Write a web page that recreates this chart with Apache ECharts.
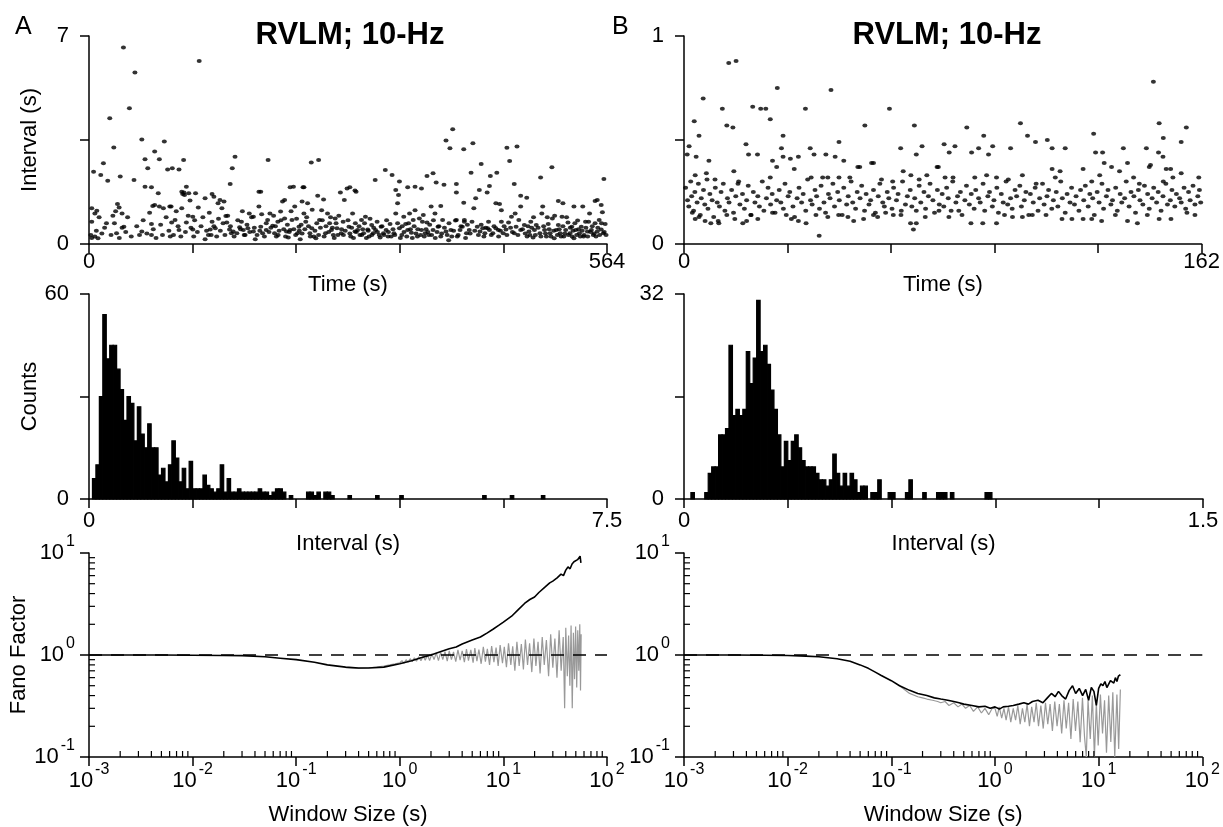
<!DOCTYPE html>
<html>
<head>
<meta charset="utf-8">
<script src="https://cdn.jsdelivr.net/npm/echarts@6/dist/echarts.min.js"></script>
<style>
  html, body { margin: 0; padding: 0; background: #fff; }
  #main { width: 1223px; height: 827px; }
</style>
</head>
<body>
<div id="main"></div>
<script>
// 各面板数据
var panelTitle = 'RVLM; 10-Hz';
var panelLetters = ['A', 'B'];

// 上排：间隔序列 [时间(s), 间隔(s)]
var spikesA = [
  [37.5,6.61],[50,5.77],[44,4.57],[22.6,4.23],[120,6.16],[27,3.25],[57.5,3.52],[82,3.45],[5,2.43],[15.7,2.72],
  [12.8,2.32],[20.4,2.13],[34,2.27],[49,2.15],[61,2.85],[71.5,3.11],[64,2.55],[76.6,2.85],[85.6,2.51],[90.7,2.55],
  [98,2.51],[103,2.83],[159,2.94],[156,2.55],[153.7,2.02],[195,2.83],[242,2.74],[250,2.83],[388.7,3.48],[396,3.86],
  [393,3.22],[408,3.19],[418,3.39],[455,3.24],[466,3.28],[458,2.79],[427,2.69],[416,2.4],[437,2.29],[444,2.4],
  [491.7,2.24],[504,2.58],[560.6,2.19],[311.6,2.15],[322.6,2.49],[330,2.32],[338,2.1],[374.6,2.38],[368,2.29],[378,2.07],
  [386.5,1.99],[355,1.93],[347,1.91],[362,1.87],[334,1.82],[400,2.02],[463,2.02],[436,1.95],[425,1.82],[433.5,1.73],
  [400,1.73],[408,1.39],[470,1.62],[476.6,1.56],[421,1.54],[443,1.37],[449,1.14],[447,1.35],[494,1.26],[511,1.45],
  [516,1.37],[528,1.26],[537.6,1.26],[551,1.45],[553.4,1.48],[557.7,1.31],[559,1.07],[470,1.26],[464,1.03],[383,1.28],
  [399,0.79],[408.7,0.81],[61,1.93],[76.6,1.26],[88,1.26],[101,1.76],[104,1.65],[134,1.68],[187,1.76],[213,1.48],
  [219,1.91],[234,1.91],[232,1.43],[249,1.62],[281,1.87],[289.6,1.8],[284,1.91],[337,1.65],
  [3,1.2],[6.4,1.03],[8.5,1.12],[3,0.75],[2,0.3],[6.4,0.25],[9.8,0.19],[19,0.7],[31,1.35],[32.8,1.23],
  [36,1.03],[27.7,0.7],[30,0.36],[36,0.55],[38,0.58],[57.5,0.42],[68,0.67],[68,0.3],[69.4,1.28],[71.5,1.31],
  [68,1.91],[75.4,1.71],[81,1.2],[89.4,1.26],[88.5,0.25],[90,0.72],[93.7,0.81],[98,0.47],[101,1.2],[102,1.68],
  [106,0.72],[110,1.46],[113,0.92],[114,0.25],[113,0.49],[116,1.71],[108.6,1.71],[103.4,1.73],[106,1.93],[119,1.23],
  [126.4,1.54],[126.4,0.16],[130,0.3],[132,0.49],[134,0.75],[136,1.59],[137.5,0.53],[140.5,1.37],[142.6,1.48],[144.7,1.2],
  [147,1.43],[149,0.94],[150,0.72],[153,0.49],[155,0.36],[157,0.42],[161,0.36],[164,0.56],[166,0.75],[168,0.47],
  [170,0.3],[173,0.53],[174.5,1.03],[179,0.92],[181,0.16],[179,0.42],[185,1.76],[185,1.26],[187,0.58],[189,0.36],
  [193,0.47],[194.5,0.81],[197,1.03],[200,0.61],[202,0.36],[204,0.25],[205.6,0.75],[208.6,1.09],[210.7,1.43],[213,0.86],
  [215,0.42],[217,0.22],[219,0.47],[221,0.81],[222.6,1.93],[224,1.26],[227,0.36],[228.6,0.58],[230,0.16],[233,1.91],
  [234,1.03],[236,0.75],[238,1.37],[240.5,0.36],[242.6,0.53],[244.8,0.25],[247,0.19],[251,0.81],[253.3,1.14],[255.4,1.5],
  [257.5,0.36],[259.7,1.03],[262,0.7],[264,0.47],[266,0.3],[268,0.86],[270,0.53],[273.7,1.73],[274.6,0.36],[276.7,0.75],
  [278,1.48],[283,0.58],[285,0.25],[287,1.03],[289.6,0.42],[290.8,1.76],[292.5,0.47],[295,0.3],[296.7,0.81],[299,0.36],
  [301,0.92],[303.5,0.49],[305,0.25],[307.8,0.64],[309.5,0.36],[312,0.47],[313.7,0.75],[316,0.3],[318,0.58],[320.6,0.36],
  [323.5,0.47],[325.6,0.25],[327.8,0.67],[332,0.36],[334,1.03],[336,1.37],[338,0.53],[340.6,0.3],[342.7,0.92],[344.8,0.67],
  [347,0.47],[349,1.03],[351,0.38],[353,0.81],[355,1.14],[357.6,0.25],[359.7,0.86],[362,0.47],[364,0.98],[366,0.36],
  [368,0.72],[370,0.3],[372.5,1.26],[374.6,0.47],[376.7,1.03],[380,0.58],[383,0.25],[385,0.81],[388.7,0.42],[391.6,0.13],
  [394,0.47],[400,0.81],[401,0.25],[404,0.47],[406.5,0.58],[408.7,0.75],[411,0.36],[414,0.47],[417,0.75],[419,1.2],
  [422.7,0.58],[425.7,0.42],[428.7,0.53],[431,0.36],[434,0.53],[436,0.47],[439.7,0.36],[443,0.53],[445.7,0.47],[449,0.75],
  [451,0.36],[454,0.49],[456.8,0.72],[460,0.92],[463,0.36],[465,0.58],[468,0.81],[470,0.47],[474,0.64],[477,0.25],
  [479,0.42],[481,0.75],[483.5,0.22],[485,0.47],[487,0.64],[491,0.36],[493,1.03],[496,0.47],[498,0.25],[500,0.67],
  [502,0.36],[504.5,0.86],[506.5,0.19],[508.7,0.47],[511,0.64],[513,0.36],[515,0.92],[517,0.25],[519,0.47],[521.5,0.72],
  [523.6,0.36],[525.7,0.58],[528,0.19],[530,0.47],[532,0.79],[534,0.36],[536,0.58],[538.5,0.25],[540.6,0.75],[542.7,0.42],
  [545,1.03],[547,0.47],[549,0.3],[551,0.7],[553.4,0.42],[555.5,0.81],[557.7,0.49],[560,0.36],[562,0.67],
  [3,0.2],[8,0.45],[11,0.9],[14,0.35],[17,0.55],[24,0.3],[26,0.95],[29,1.1],[33,0.2],[40,0.4],
  [42,0.9],[46,0.25],[52,0.6],[55,0.3],[59,0.8],[63,0.35],[66,1.05],[70,0.5],[73,0.2],[78,0.65],
  [80,0.3],[84,0.9],[87,0.45],[92,0.3],[95,1.1],[97,0.6],[100,0.25],[105,0.4],[108,0.95],[111,0.55],
  [115,0.8],[118,0.4],[122,0.6],[124,0.9],[128,0.45],[131,1.05],[133,0.3],[136,0.6],[139,0.25],[141,0.85],
  [143,0.45],[146,0.7],[148,0.3],[151,0.95],[154,0.6],[158,0.25],[162,0.8],[165,0.5],[167,1.1],[169,0.3],
  [172,0.65],[175,0.4],[177,0.9],[180,0.55],[183,0.3],[186,0.45],[188,1.0],[191,0.25],[193,0.7],[196,0.4],
  [198,0.55],[201,0.95],[203,0.6],[206,0.3],[207,0.45],[209,0.8],[212,0.5],[214,0.25],[216,0.65],[218,0.4],
  [220,1.1],[223,0.5],[225,0.3],[226,0.85],[229,0.45],[231,0.65],[232,0.35],[235,0.5],[237,0.9],[239,0.6],
  [241,0.25],[243,1.15],[246,0.45],[248,0.7],[250,0.3],[252,0.55],[254,0.8],[256,0.25],[258,0.6],[261,0.4],
  [263,0.9],[265,0.55],[267,0.2],[269,0.7],[271,0.3],[272,0.95],[275,0.5],[277,0.3],[279,0.45],[282,0.8],
  [284,0.35],[286,0.55],[288,0.2],[290,0.7],[291,0.4],[294,0.6],[297,0.3],[298,0.5],[300,0.7],[302,0.2],
  [304,0.45],[306,0.85],[308,0.3],[310,0.55],[314,0.4],[317,0.22],[319,0.6],[321,0.3],[324,0.8],[326,0.4],
  [329,0.25],[331,0.5],[333,0.3],[336,0.7],[339,0.2],[341,0.6],[343,0.4],[346,0.25],[348,0.7],[350,0.5],
  [352,0.2],[354,0.6],[356,0.35],[358,0.5],[361,0.3],[363,0.75],[365,0.25],[367,0.5],[369,0.4],[371,0.65],
  [373,0.3],[375,0.8],[377,0.2],[379,0.4],[381,0.6],[384,0.35],[387,0.55],[390,0.3],[392,0.7],[395,0.25],
  [397,0.45],[402,0.3],[405,0.6],[410,0.2],[412,0.65],[415,0.35],[420,0.45],[424,0.3],[427,0.65],[430,0.25],
  [432,0.55],[435,0.75],[438,0.3],[441,0.6],[446,0.25],[448,0.45],[452,0.6],[455,0.3],[459,0.55],[461,0.4],
  [467,0.3],[472,0.5],[475,0.35],[478,0.6],[480,0.3],[482,0.55],[484,0.9],[486,0.3],[489,0.55],[492,0.25],
  [495,0.6],[497,0.35],[499,0.9],[501,0.5],[503,0.25],[506,0.45],[507,0.95],[510,0.3],[512,0.5],[514,0.25],
  [516,0.6],[518,0.35],[520,0.9],[522,0.3],[524,0.55],[526,0.25],[527,0.45],[529,0.7],[531,0.3],[533,0.5],
  [535,0.25],[537,0.45],[539,0.3],[541,0.55],[543,0.25],[544,0.75],[546,0.4],[548,0.6],[550,0.35],[552,0.25],
  [554,0.55],[556,0.3],[558,0.7],[561,0.4],[563,0.3]
];

// B 上排：稀疏的高值与下缘点 [时间(s), 间隔(s)]
var spikesB = [
  [14,0.87],[16.3,0.88],[6,0.70],[3.2,0.59],[4.7,0.52],[1.6,0.47],[1,0.43],[3.8,0.42],[12,0.65],[13.4,0.57],
  [15.3,0.56],[15.6,0.35],[19.4,0.48],[20.2,0.43],[23,0.43],[21.5,0.66],[24,0.65],[25.6,0.65],[27,0.6],[29.2,0.75],
  [31,0.52],[27.7,0.4],[29,0.37],[30.5,0.46],[31,0.42],[33.3,0.41],[34.5,0.36],[35.8,0.42],[38,0.65],[39.5,0.46],
  [40.7,0.43],[44.4,0.43],[46,0.74],[47.3,0.42],[48.5,0.49],[50,0.40],[54.4,0.37],[56.6,0.57],[58.7,0.39],[64.3,0.65],
  [67.8,0.46],[72.1,0.57],[72.7,0.43],[74.5,0.47],[79.6,0.37],[81.4,0.48],[83,0.44],[84.8,0.47],[88.5,0.56],[90,0.44],
  [92.2,0.46],[93.8,0.52],[95.3,0.43],[96.6,0.47],[102.2,0.46],[105.3,0.58],[107.5,0.52],[110,0.49],[113.7,0.5],[115.2,0.46],
  [119.3,0.46],[128.2,0.53],[128.8,0.44],[131,0.44],[131.5,0.39],[133.8,0.37],[137.5,0.46],[138.8,0.39],[144.7,0.46],[146.9,0.78],
  [148.7,0.58],[148.5,0.44],[150,0.51],[149.9,0.42],[155.6,0.49],[157.2,0.56],[146,0.38],[150.9,0.36],[42.3,0.04],
  [2.6,0.15],[3.5,0.12],[4.7,0.13],[6.6,0.11],[8.4,0.1],[10.7,0.11],[10.9,0.1],[13.4,0.14],[15.9,0.12],[18.4,0.1],
  [19.6,0.11],[20.9,0.14],[23.1,0.12],[27.7,0.15],[32,0.14],[33.6,0.12],[35.8,0.11],[38.2,0.1],[41.3,0.14],[45,0.13],
  [48.4,0.14],[51.3,0.13],[53.1,0.11],[56.2,0.12],[59.3,0.14],[60.6,0.13],[63.1,0.15],[65.5,0.14],[68,0.16],[70.9,0.1],
  [71.8,0.07],[72.7,0.1],[75.5,0.13],[79.8,0.16],[82.9,0.13],[86,0.16],[89.8,0.1],[93.5,0.1],[97.8,0.1],[100.3,0.14],
  [102.8,0.13],[105.9,0.13],[109,0.14],[113.3,0.14],[118.3,0.12],[121.4,0.12],[124.9,0.12],[127.6,0.12],[130.7,0.11],[135,0.14],
  [138.8,0.11],[141.9,0.1],[145,0.14],[148.7,0.12],[152.4,0.12],[157.4,0.15],[159.9,0.14],
  [3.5,0.33],[7,0.34],[7.8,0.4],[9.7,0.31],[16.9,0.29],[27,0.32],[39.8,0.32],[43.4,0.32],[45,0.32],[48.5,0.32],
  [51.9,0.32],[55,0.37],[59.3,0.39],[61.8,0.31],[65.3,0.3],[68.6,0.35],[71,0.33],[73.6,0.31],[76,0.33],[79.2,0.37],
  [81.7,0.32],[84.2,0.32],[91,0.32],[94.7,0.33],[97.8,0.32],[101.5,0.31],[105.9,0.33],[110.2,0.29],[115.2,0.36],[116.2,0.32],
  [117.7,0.35],[124.9,0.36],[127.6,0.3],[130.1,0.33],[136.3,0.35],[140.7,0.32],[142.5,0.29],[145.6,0.37],[150,0.3],[152.3,0.36],
  [153,0.32],[155.6,0.34],[161.1,0.32]
];
// B 上排：密集带（时间与间隔分列）
var bandTimesB = [
  0.5,1.1,1.5,2.1,2.4,3.0,3.4,4.1,4.5,5.1,5.4,6.1,6.5,7.2,7.5,8.1,8.8,9.3,9.8,10.4,
  11.1,11.6,12.3,12.8,13.6,14.1,14.9,15.5,16.2,17.1,17.5,18.3,18.9,19.6,20.1,21.0,21.7,22.2,23.1,23.6,
  24.5,25.0,25.8,26.3,27.1,27.6,28.5,29.0,29.8,30.3,31.1,31.6,32.6,33.1,34.1,34.6,35.4,36.0,36.8,37.3,
  38.1,38.7,39.6,40.1,41.0,41.5,42.4,42.9,43.8,44.3,45.2,45.7,46.6,47.1,48.1,48.6,49.5,50.0,50.9,51.4,
  52.3,52.8,53.7,54.2,55.1,55.6,56.5,57.0,57.9,58.4,59.3,59.9,60.8,61.3,62.2,62.7,63.6,64.1,65.1,65.6,
  66.5,67.0,67.9,68.4,69.3,69.9,70.8,71.3,72.2,72.7,73.6,74.1,75.1,75.6,76.5,77.0,77.9,78.4,79.3,79.9,
  80.8,81.3,82.2,82.7,83.6,84.1,85.1,85.6,86.5,87.0,87.9,88.4,89.3,89.9,90.8,91.3,92.2,92.7,93.6,94.1,
  95.1,95.6,96.5,97.0,97.9,98.4,99.3,99.9,100.8,101.3,102.2,102.7,103.6,104.1,105.1,105.6,106.5,107.0,107.9,108.4,
  109.3,109.9,110.8,111.3,112.2,112.7,113.6,114.1,115.1,115.6,116.5,117.0,117.9,118.4,119.3,119.9,120.8,121.3,122.2,122.7,
  123.6,124.1,125.1,125.6,126.5,127.0,127.9,128.4,129.3,129.9,130.8,131.3,132.2,132.7,133.6,134.1,135.1,135.6,136.5,137.0,
  137.9,138.4,139.3,139.9,140.8,141.3,142.2,142.7,143.6,144.1,145.1,145.6,146.5,147.0,147.9,148.4,149.3,149.9,150.8,151.3,
  152.2,152.7,153.6,154.1,155.1,155.6,156.5,157.0,157.9,158.4,159.3,159.9,160.8,161.3,161.7
];
var bandValsB = [
  0.27,0.21,0.18,0.3,0.23,0.16,0.25,0.2,0.29,0.14,0.22,0.26,0.19,0.31,0.17,0.24,0.21,0.13,0.27,0.2,
  0.18,0.25,0.29,0.16,0.22,0.2,0.26,0.15,0.23,0.3,0.19,0.24,0.17,0.21,0.28,0.14,0.25,0.2,0.23,0.18,
  0.3,0.16,0.22,0.27,0.19,0.24,0.15,0.21,0.26,0.2,0.17,0.29,0.23,0.25,0.18,0.13,0.22,0.27,0.2,0.24,
  0.16,0.31,0.21,0.19,0.26,0.23,0.17,0.28,0.2,0.15,0.24,0.22,0.29,0.18,0.25,0.21,0.14,0.27,0.19,0.23,
  0.3,0.2,0.17,0.25,0.22,0.28,0.16,0.24,0.19,0.21,0.26,0.15,0.23,0.29,0.2,0.18,0.25,0.22,0.17,0.27,
  0.21,0.24,0.14,0.3,0.19,0.23,0.26,0.18,0.22,0.16,0.28,0.2,0.25,0.17,0.23,0.29,0.21,0.15,0.26,0.19,
  0.24,0.18,0.27,0.22,0.16,0.3,0.2,0.23,0.25,0.14,0.21,0.28,0.19,0.24,0.17,0.26,0.22,0.2,0.29,0.16,
  0.23,0.25,0.18,0.21,0.27,0.15,0.24,0.2,0.3,0.19,0.22,0.17,0.26,0.23,0.28,0.18,0.21,0.25,0.14,0.24,
  0.2,0.27,0.16,0.22,0.29,0.19,0.23,0.26,0.17,0.21,0.25,0.18,0.3,0.22,0.15,0.24,0.2,0.27,0.19,0.23,
  0.16,0.26,0.21,0.28,0.18,0.24,0.22,0.14,0.25,0.2,0.29,0.17,0.23,0.26,0.19,0.21,0.27,0.16,0.24,0.2,
  0.22,0.3,0.18,0.25,0.23,0.15,0.26,0.21,0.19,0.28,0.24,0.17,0.22,0.27,0.2,0.25,0.16,0.23,0.29,0.19,
  0.21,0.26,0.18,0.24,0.22,0.2,0.27,0.17,0.25,0.21,0.28,0.19,0.23,0.26,0.2
];

// 中排：间隔直方图（计数，按 bin 序号）
var binWidthA = 0.05;
var countsA = [0,6,10,30,54,41,45,45,38,32,23,30,28,17,27,19,15,22,15,15,
  7,9,5,10,17,12,5,9,3,11,3,3,3,7,4,3,2,3,10,2,
  6,2,2,3,2,2,2,2,2,3,2,2,1,2,3,3,2,0,1,0,
  0,0,0,2,2,1,2,0,2,2,1,0,0,0,0,1,0,0,0,0,
  0,0,0,1,0,0,0,0,0,0,1,0,0,0,0,0,0,0,0,0,
  0,0,0,0,0,0,0,0,0,0,0,0,0,0,1,0,0,0,0,0,
  0,0,1,0,0,0,0,0,0,0,0,1];
var binWidthB = 0.01;
var countsB = [0,0,1,0,0,0,1,4,5,5,10,10,11,24,13,14,13,14,23,18,
  22,31,23,24,21,17,14,10,5,9,6,9,10,8,6,5,5,5,4,3,
  3,2,3,7,4,2,4,2,4,3,1,2,2,0,1,1,3,0,0,1,
  1,0,0,0,1,3,0,0,0,1,0,0,0,1,1,1,0,1,0,0,
  0,0,0,0,0,0,0,1,1];

// 下排：Fano 因子 [窗口(s), F]
var fanoA = [
  [0.001,1.0],[0.002,1.0],[0.005,1.0],[0.01,0.995],[0.02,0.99],[0.03,0.985],[0.05,0.96],[0.07,0.93],[0.1,0.9],[0.15,0.85],
  [0.2,0.8],[0.3,0.76],[0.4,0.745],[0.5,0.745],[0.7,0.76],[1.0,0.82],[1.3,0.88],[1.6,0.94],[2,1.0],[2.5,1.08],
  [3,1.15],[3.5,1.2],[4,1.28],[5,1.4],[6,1.5],[7,1.65],[8,1.8],[9,1.95],[10,2.1],[12,2.4],
  [14,2.8],[16,3.2],[18,3.5],[20,3.7],[22,4.1],[25,4.6],[28,5.1],[30,5.3],[33,5.7],[36,6.2],
  [38,6.0],[40,6.8],[42,7.3],[44,7.0],[46,7.8],[48,8.2],[50,7.9],[52,8.6],[54,8.3],[55,9.3],[56,8.0]
];
var fanoShuffledA = [
  [0.3,0.75],[0.4,0.74],[0.5,0.75],[0.6,0.76],[0.7,0.78],[0.8,0.8],[0.9,0.82],
  [1.0,0.84],[1.05,0.88],[1.1,0.83],[1.15,0.9],[1.2,0.85],[1.26,0.92],[1.32,0.86],[1.38,0.94],[1.45,0.87],[1.52,0.96],
  [1.6,0.88],[1.68,0.98],[1.76,0.89],[1.85,1.0],[1.94,0.88],[2.04,1.03],[2.14,0.9],[2.25,1.05],[2.36,0.88],[2.48,1.06],
  [2.6,0.9],[2.73,1.08],[2.87,0.87],[3.0,1.1],[3.15,0.9],[3.3,1.07],[3.47,0.86],[3.64,1.12],[3.82,0.89],[4.0,1.1],
  [4.2,0.85],[4.4,1.14],[4.6,0.88],[4.85,1.12],[5.1,0.84],[5.3,1.17],[5.55,0.87],[5.8,1.13],[6.1,0.82],[6.4,1.2],
  [6.7,0.86],[7.0,1.15],[7.35,0.8],[7.7,1.22],[8.1,0.85],[8.5,1.18],[8.9,0.78],[9.3,1.25],[9.8,0.83],[10.2,1.2],
  [10.7,0.76],[11.2,1.3],[11.8,0.8],[12.3,1.22],[12.9,0.7],[13.5,1.35],[14.2,0.78],[14.9,1.28],[15.6,0.72],[16.3,1.42],
  [17.1,0.8],[17.9,1.3],[18.8,0.68],[19.7,1.45],[20.6,0.78],[21.6,1.35],[22.6,0.66],[23.7,1.5],[24.8,0.8],[26,1.4],
  [27.3,0.62],[28.6,1.6],[30,0.75],[31.4,1.45],[32.9,0.6],[34.5,1.75],[36.1,0.7],[37.8,1.5],[39,0.3],[40,1.85],
  [41.4,0.62],[42.6,1.55],[43.8,0.5],[45,1.95],[46.2,0.3],[47.4,1.65],[48.6,0.58],[49.8,1.9],[51,0.48],[52.2,1.75],
  [53.4,0.7],[54.6,2.0],[55.5,0.45],[56.3,1.6]
];
var fanoB = [
  [0.001,1.0],[0.003,1.0],[0.006,0.995],[0.01,0.99],[0.015,0.975],[0.02,0.96],[0.03,0.92],[0.04,0.87],[0.05,0.8],[0.06,0.74],
  [0.07,0.68],[0.08,0.63],[0.1,0.56],[0.12,0.5],[0.15,0.45],[0.18,0.42],[0.22,0.4],[0.26,0.38],[0.3,0.37],[0.35,0.36],
  [0.4,0.35],[0.45,0.34],[0.5,0.33],[0.6,0.32],[0.7,0.31],[0.8,0.315],[0.9,0.3],[1.0,0.31],[1.1,0.295],[1.2,0.31],
  [1.35,0.315],[1.5,0.32],[1.7,0.33],[1.9,0.34],[2.1,0.33],[2.3,0.35],[2.6,0.36],[2.9,0.34],[3.2,0.38],[3.5,0.42],
  [3.8,0.39],[4.1,0.44],[4.4,0.4],[4.8,0.37],[5.2,0.45],[5.6,0.5],[6.0,0.42],[6.5,0.47],[7,0.4],[7.5,0.46],
  [8,0.36],[8.5,0.48],[9,0.44],[9.5,0.32],[10,0.47],[10.5,0.52],[11,0.5],[11.5,0.55],[12,0.48],[12.5,0.5],
  [13,0.56],[13.5,0.58],[14,0.53],[14.5,0.6],[15,0.55],[15.5,0.62],[16,0.6],[16.2,0.64]
];
var fanoShuffledB = [
  [0.12,0.5],[0.15,0.42],[0.18,0.39],[0.2,0.38],[0.22,0.37],[0.25,0.36],[0.28,0.35],[0.3,0.34],[0.33,0.35],[0.36,0.32],
  [0.4,0.34],[0.44,0.31],[0.48,0.33],[0.52,0.3],[0.57,0.32],[0.62,0.28],[0.68,0.31],[0.74,0.27],[0.8,0.3],[0.87,0.26],
  [0.94,0.3],[1.0,0.3],[1.05,0.25],[1.1,0.31],[1.16,0.24],[1.22,0.3],[1.28,0.23],[1.35,0.31],[1.42,0.22],[1.5,0.3],
  [1.58,0.23],[1.66,0.32],[1.75,0.21],[1.84,0.3],[1.94,0.22],[2.04,0.33],[2.15,0.2],[2.26,0.31],[2.38,0.22],[2.5,0.34],
  [2.63,0.2],[2.77,0.32],[2.92,0.19],[3.07,0.34],[3.23,0.21],[3.4,0.33],[3.58,0.18],[3.77,0.35],[3.97,0.2],[4.18,0.33],
  [4.4,0.17],[4.63,0.36],[4.87,0.19],[5.13,0.34],[5.4,0.15],[5.68,0.37],[5.98,0.18],[6.3,0.35],[6.63,0.14],[6.98,0.38],
  [7.3,0.16],[7.6,0.1],[7.9,0.36],[8.3,0.15],[8.7,0.4],[9.1,0.1],[9.5,0.34],[9.9,0.13],[10.4,0.41],[10.9,0.17],
  [11.4,0.36],[11.9,0.11],[12.5,0.4],[13.1,0.14],[13.7,0.43],[14.3,0.1],[15,0.41],[15.6,0.12],[16.2,0.46]
];

// 坐标轴范围与刻度标签
var timeMax = [564, 162];
var intervalMax = [7, 1];
var histMaxX = [7.5, 1.5];
var histMaxText = ['7.5', '1.5'];
var histMaxY = [60, 32];
var minorMultipliers = [2,3,4,5,6,7,8,9];
var xDecades = [-3,-2,-1,0,1];
var yDecades = [-1,0];

var FONT = 'Arial, "Liberation Sans", Helvetica, sans-serif';
var chart = echarts.init(document.getElementById('main'));

var gridsLeft = [89, 684];
var gridsWidth = [518, 519];
var rows = [{top: 36, height: 208}, {top: 294, height: 205}, {top: 553, height: 207}];

var grid = [], xAxis = [], yAxis = [], series = [];

function axisBase() {
  return {
    axisLine: {show: true, onZero: false, lineStyle: {color: '#000', width: 1.5}},
    axisTick: {show: true, length: 9, lineStyle: {color: '#000', width: 1.5}},
    splitLine: {show: false},
    axisLabel: {color: '#000', fontSize: 22, fontFamily: FONT},
    nameTextStyle: {color: '#000', fontSize: 22, fontFamily: FONT}
  };
}
function endLabels(maxV, maxText) {
  return function (v) {
    if (Math.abs(v) < 1e-9) return '0';
    if (Math.abs(v - maxV) < 1e-6) return maxText;
    return '';
  };
}
function powLabel(v) {
  var e = Math.round(Math.log(v) / Math.LN10);
  return '{b|10}{s|' + e + '}';
}
var powRich = {
  b: {fontSize: 22, fontFamily: FONT, color: '#000', lineHeight: 22, verticalAlign: 'bottom'},
  s: {fontSize: 16, fontFamily: FONT, color: '#000', lineHeight: 16, padding: [0, 0, 14, 2], verticalAlign: 'bottom'}
};

function histItems(counts, bw) {
  var out = [];
  for (var i = 0; i < counts.length; i++) {
    if (counts[i] > 0) out.push([i * bw, (i + 1) * bw, counts[i]]);
  }
  return out;
}
function renderBin(params, api) {
  var p0 = api.coord([api.value(0), 0]);
  var p1 = api.coord([api.value(1), api.value(2)]);
  return {type: 'rect', shape: {x: p0[0], y: p1[1], width: p1[0] - p0[0], height: p0[1] - p1[1]},
    style: {fill: '#000', stroke: '#000', lineWidth: 1.2}};
}
function minorVals(decades) {
  var out = [];
  decades.forEach(function (d) {
    minorMultipliers.forEach(function (m) { out.push(m * Math.pow(10, d)); });
  });
  return out;
}
function renderXMinor(params, api) {
  var p = api.coord([api.value(0), 0.1]);
  return {type: 'line', shape: {x1: p[0], y1: p[1], x2: p[0], y2: p[1] - 6},
    style: {stroke: '#000', lineWidth: 1.2}};
}
function renderYMinor(params, api) {
  var p = api.coord([0.001, api.value(1)]);
  return {type: 'line', shape: {x1: p[0], y1: p[1], x2: p[0] + 6, y2: p[1]},
    style: {stroke: '#000', lineWidth: 1.2}};
}

var bandB = bandTimesB.map(function (t, i) { return [t, bandValsB[i]]; });
var scatterSets = [spikesA, spikesB.concat(bandB)];
var countSets = [countsA, countsB];
var binWidths = [binWidthA, binWidthB];
var fanoSets = [fanoA, fanoB];
var fanoShufSets = [fanoShuffledA, fanoShuffledB];

for (var c = 0; c < 2; c++) {
  for (var r = 0; r < 3; r++) {
    grid.push({left: gridsLeft[c], width: gridsWidth[c], top: rows[r].top, height: rows[r].height});
  }
  var g0 = c * 3;

  // 上排散点
  var xa = axisBase();
  xa.gridIndex = g0; xa.type = 'value'; xa.min = 0; xa.max = timeMax[c]; xa.interval = timeMax[c] / 5;
  xa.axisLabel.formatter = endLabels(timeMax[c], String(timeMax[c]));
  xa.axisLabel.margin = 7;
  xa.name = 'Time (s)'; xa.nameLocation = 'middle'; xa.nameGap = 14;
  xAxis.push(xa);
  var ya = axisBase();
  ya.gridIndex = g0; ya.type = 'value'; ya.min = 0; ya.max = intervalMax[c]; ya.interval = intervalMax[c] / 2;
  ya.axisLabel.formatter = endLabels(intervalMax[c], String(intervalMax[c]));
  ya.axisLabel.margin = 20;
  if (c === 0) { ya.name = 'Interval (s)'; ya.nameLocation = 'middle'; ya.nameGap = 48; }
  yAxis.push(ya);
  series.push({type: 'scatter', xAxisIndex: g0, yAxisIndex: g0, data: scatterSets[c],
    symbol: 'circle', symbolSize: [5, 4], itemStyle: {color: '#000'}, silent: true, animation: false});

  // 中排直方图
  xa = axisBase();
  xa.gridIndex = g0 + 1; xa.type = 'value'; xa.min = 0; xa.max = histMaxX[c]; xa.interval = histMaxX[c] / 5;
  xa.axisLabel.formatter = endLabels(histMaxX[c], histMaxText[c]);
  xa.axisLabel.margin = 11;
  xa.name = 'Interval (s)'; xa.nameLocation = 'middle'; xa.nameGap = 17;
  xAxis.push(xa);
  ya = axisBase();
  ya.gridIndex = g0 + 1; ya.type = 'value'; ya.min = 0; ya.max = histMaxY[c]; ya.interval = histMaxY[c] / 2;
  ya.axisLabel.formatter = endLabels(histMaxY[c], String(histMaxY[c]));
  ya.axisLabel.margin = 20;
  if (c === 0) { ya.name = 'Counts'; ya.nameLocation = 'middle'; ya.nameGap = 48; }
  yAxis.push(ya);
  series.push({type: 'custom', xAxisIndex: g0 + 1, yAxisIndex: g0 + 1, renderItem: renderBin,
    encode: {x: [0, 1], y: 2}, data: histItems(countSets[c], binWidths[c]), silent: true, animation: false});

  // 下排 Fano 因子
  xa = axisBase();
  xa.gridIndex = g0 + 2; xa.type = 'log'; xa.logBase = 10; xa.min = 0.001; xa.max = 100;
  xa.axisLabel = {color: '#000', formatter: powLabel, rich: powRich, margin: 13};
  xa.name = 'Window Size (s)'; xa.nameLocation = 'middle'; xa.nameGap = 47;
  xAxis.push(xa);
  ya = axisBase();
  ya.gridIndex = g0 + 2; ya.type = 'log'; ya.logBase = 10; ya.min = 0.1; ya.max = 10;
  ya.axisLabel = {color: '#000', formatter: powLabel, rich: powRich, margin: 14};
  if (c === 0) { ya.name = 'Fano Factor'; ya.nameLocation = 'middle'; ya.nameGap = 48; }
  yAxis.push(ya);
  series.push({type: 'line', xAxisIndex: g0 + 2, yAxisIndex: g0 + 2, data: fanoShufSets[c],
    showSymbol: false, lineStyle: {color: '#999', width: 1.2}, silent: true, animation: false, z: 2});
  series.push({type: 'line', xAxisIndex: g0 + 2, yAxisIndex: g0 + 2, data: fanoSets[c],
    showSymbol: false, lineStyle: {color: '#000', width: 1.6}, silent: true, animation: false, z: 3,
    markLine: {silent: true, symbol: 'none', label: {show: false}, animation: false,
      lineStyle: {color: '#000', width: 1.5, type: [13, 9]}, data: [{yAxis: 1}]}});
  series.push({type: 'custom', xAxisIndex: g0 + 2, yAxisIndex: g0 + 2, renderItem: renderXMinor,
    encode: {x: 0, y: 1}, data: minorVals(xDecades).map(function (v) { return [v, 1]; }),
    silent: true, animation: false, clip: false, z: 4});
  series.push({type: 'custom', xAxisIndex: g0 + 2, yAxisIndex: g0 + 2, renderItem: renderYMinor,
    encode: {x: 0, y: 1}, data: minorVals(yDecades).map(function (v) { return [0.01, v]; }),
    silent: true, animation: false, clip: false, z: 4});
}

var titles = [
  {text: panelLetters[0], left: 10, top: 10, textStyle: {fontSize: 25, fontWeight: 'normal', color: '#000', fontFamily: FONT}},
  {text: panelLetters[1], left: 607, top: 10, textStyle: {fontSize: 25, fontWeight: 'normal', color: '#000', fontFamily: FONT}},
  {text: panelTitle, left: 345, top: 15, textAlign: 'center', textStyle: {fontSize: 31, fontWeight: 'bold', color: '#000', fontFamily: FONT}},
  {text: panelTitle, left: 942, top: 15, textAlign: 'center', textStyle: {fontSize: 31, fontWeight: 'bold', color: '#000', fontFamily: FONT}}
];

chart.setOption({
  backgroundColor: '#fff',
  animation: false,
  title: titles,
  grid: grid,
  xAxis: xAxis,
  yAxis: yAxis,
  series: series
});
</script>
</body>
</html>
